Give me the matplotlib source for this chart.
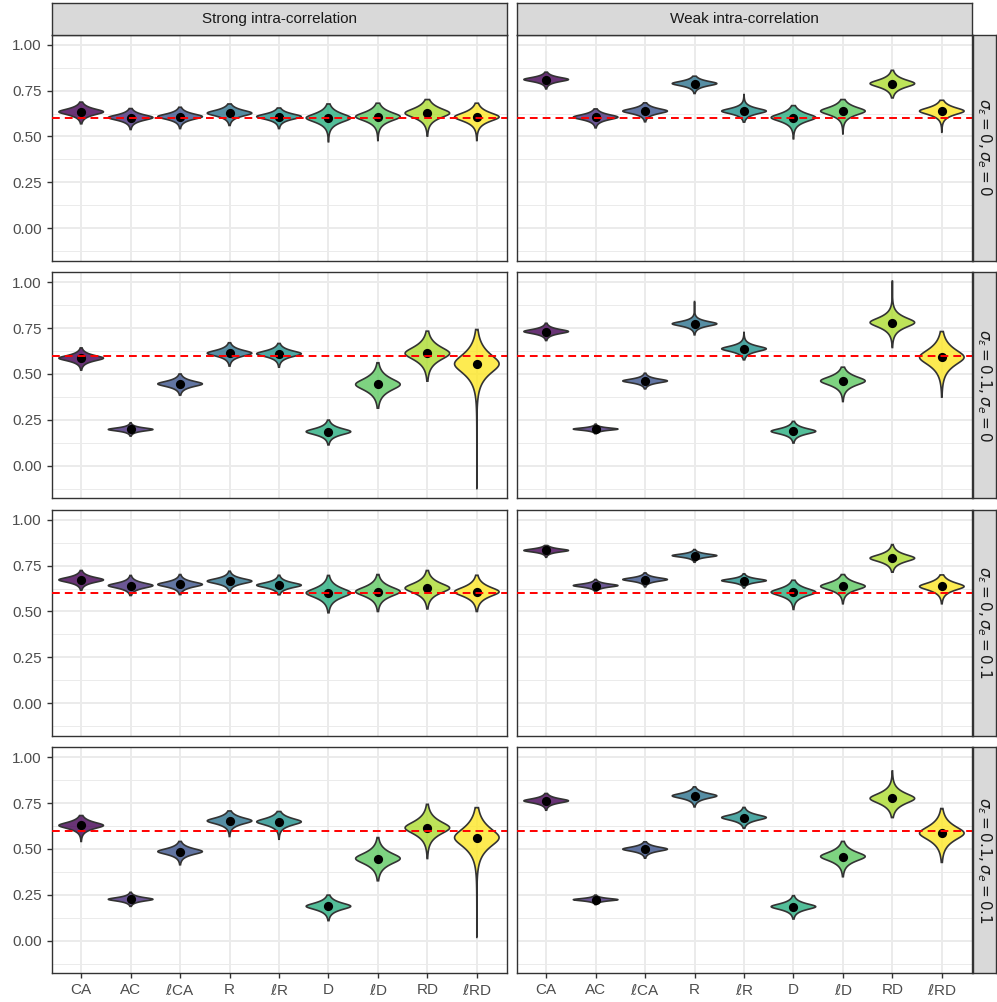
import numpy as np
import matplotlib
matplotlib.use("Agg")
import matplotlib.pyplot as plt

plt.rcParams['font.family'] = ['Liberation Sans', 'DejaVu Sans']
plt.rcParams['mathtext.fontset'] = 'dejavusans'

methods = ["CA", "AC", r"$\ell$CA", "R", r"$\ell$R", "D", r"$\ell$D", "RD", r"$\ell$RD"]
columns = ["Strong intra-correlation", "Weak intra-correlation"]
rows = [r"$\sigma_\varepsilon = 0, \sigma_e = 0$",
        r"$\sigma_\varepsilon = 0.1, \sigma_e = 0$",
        r"$\sigma_\varepsilon = 0, \sigma_e = 0.1$",
        r"$\sigma_\varepsilon = 0.1, \sigma_e = 0.1$"]
true_value = 0.6

# panels in order: row1 strong, row1 weak, row2 strong, row2 weak, ...
# mean estimate (black dot)
means = [
    [0.634, 0.603, 0.608, 0.627, 0.608, 0.601, 0.608, 0.627, 0.606],
    [0.810, 0.605, 0.638, 0.788, 0.638, 0.603, 0.638, 0.788, 0.638],
    [0.586, 0.198, 0.446, 0.613, 0.610, 0.186, 0.443, 0.612, 0.555],
    [0.731, 0.200, 0.462, 0.773, 0.637, 0.188, 0.462, 0.780, 0.591],
    [0.672, 0.641, 0.647, 0.665, 0.643, 0.601, 0.608, 0.627, 0.607],
    [0.832, 0.641, 0.674, 0.804, 0.668, 0.605, 0.637, 0.790, 0.636],
    [0.628, 0.226, 0.486, 0.653, 0.648, 0.188, 0.448, 0.615, 0.562],
    [0.762, 0.224, 0.499, 0.789, 0.671, 0.186, 0.459, 0.775, 0.586],
]
# smallest estimate
lows = [
    [0.569, 0.538, 0.543, 0.560, 0.543, 0.471, 0.478, 0.502, 0.478],
    [0.759, 0.547, 0.580, 0.734, 0.578, 0.487, 0.514, 0.710, 0.523],
    [0.521, 0.162, 0.385, 0.543, 0.537, 0.114, 0.314, 0.461, -0.124],
    [0.682, 0.175, 0.419, 0.713, 0.577, 0.124, 0.350, 0.644, 0.374],
    [0.616, 0.587, 0.592, 0.610, 0.591, 0.493, 0.500, 0.514, 0.500],
    [0.795, 0.611, 0.634, 0.768, 0.628, 0.511, 0.542, 0.714, 0.542],
    [0.541, 0.188, 0.414, 0.568, 0.553, 0.110, 0.327, 0.448, 0.019],
    [0.711, 0.197, 0.450, 0.729, 0.613, 0.119, 0.349, 0.671, 0.427],
]
# largest estimate
highs = [
    [0.687, 0.652, 0.659, 0.677, 0.655, 0.677, 0.681, 0.701, 0.681],
    [0.850, 0.650, 0.683, 0.828, 0.728, 0.668, 0.701, 0.860, 0.697],
    [0.642, 0.234, 0.500, 0.670, 0.666, 0.249, 0.561, 0.733, 0.742],
    [0.776, 0.227, 0.504, 0.894, 0.726, 0.242, 0.537, 1.006, 0.731],
    [0.723, 0.696, 0.701, 0.719, 0.697, 0.696, 0.701, 0.723, 0.697],
    [0.859, 0.674, 0.710, 0.837, 0.705, 0.670, 0.701, 0.864, 0.699],
    [0.682, 0.264, 0.541, 0.707, 0.704, 0.249, 0.562, 0.743, 0.725],
    [0.802, 0.249, 0.539, 0.838, 0.726, 0.246, 0.541, 0.925, 0.720],
]
# spread of the body of each violin
spreads = [
    [0.015, 0.014, 0.014, 0.015, 0.014, 0.022, 0.022, 0.024, 0.022],
    [0.011, 0.013, 0.013, 0.012, 0.014, 0.020, 0.020, 0.019, 0.018],
    [0.014, 0.008, 0.014, 0.015, 0.015, 0.016, 0.030, 0.033, 0.050],
    [0.011, 0.006, 0.010, 0.012, 0.014, 0.014, 0.022, 0.025, 0.040],
    [0.013, 0.013, 0.013, 0.013, 0.013, 0.024, 0.024, 0.025, 0.024],
    [0.008, 0.008, 0.009, 0.008, 0.009, 0.019, 0.019, 0.018, 0.019],
    [0.016, 0.009, 0.015, 0.016, 0.017, 0.017, 0.028, 0.032, 0.048],
    [0.011, 0.006, 0.011, 0.013, 0.014, 0.015, 0.023, 0.026, 0.035],
]

colors = plt.cm.viridis(np.linspace(0, 1, len(methods)))
W, H = 997, 1002


def draw_violin(ax, x, m, lo, hi, b, color):
    ys = np.linspace(lo, hi, 300)
    d = ys - m
    c = 0.9 * b
    w = np.exp(-(np.sqrt(d ** 2 + c ** 2) - c) / b)
    w = 0.45 * w / w.max()
    px = np.concatenate([x - w, (x + w)[::-1]])
    py = np.concatenate([ys, ys[::-1]])
    fc = (color[0], color[1], color[2], 0.8)
    ax.fill(px, py, facecolor=fc, edgecolor='#333333', linewidth=1.2, zorder=2)


fig = plt.figure(figsize=(W / 100, H / 100), dpi=100)

lefts = [51.5, 516.5]
pw, ph = 455, 226
for r in range(4):
    top = 34.5 + 237.5 * r
    for c in range(2):
        k = r * 2 + c
        ax = fig.add_axes([lefts[c] / W, 1 - (top + ph) / H, pw / W, ph / H])
        xs = np.arange(1, len(methods) + 1)
        for i in range(len(methods)):
            draw_violin(ax, xs[i], means[k][i], lows[k][i], highs[k][i],
                        spreads[k][i], colors[i])
        ax.scatter(xs, means[k], s=44, color='black', zorder=3, linewidths=0)
        ax.axhline(true_value, color='red', lw=1.4, ls=(0, (4, 2.6)), zorder=4)

        ax.set_xlim(0.4, len(methods) + 0.6)
        ax.set_ylim(-0.175, 1.055)
        ax.set_xticks(xs)
        ax.set_yticks([0, 0.25, 0.5, 0.75, 1.0])
        ax.set_yticks([-0.125, 0.125, 0.375, 0.625, 0.875], minor=True)
        ax.grid(which='major', color='#EBEBEB', lw=1.4, zorder=0)
        ax.grid(which='minor', axis='y', color='#EBEBEB', lw=0.7, zorder=0)
        ax.set_axisbelow(True)
        for s in ax.spines.values():
            s.set_color('#333333')
            s.set_linewidth(1.0)
        ax.tick_params(which='major', color='#333333', labelcolor='#4D4D4D',
                       length=3.5, width=1.0, labelsize=11)
        ax.tick_params(which='minor', length=0)
        if c == 0:
            ax.set_yticklabels(["0.00", "0.25", "0.50", "0.75", "1.00"])
        else:
            ax.tick_params(axis='y', which='both', left=False, labelleft=False)
        if r == 3:
            ax.set_xticklabels(methods)
        else:
            ax.tick_params(axis='x', bottom=False, labelbottom=False)

        if r == 0:
            sax = fig.add_axes([lefts[c] / W, 1 - 34.5 / H, pw / W, 31.5 / H])
            sax.set_facecolor('#D9D9D9')
            sax.set_xticks([])
            sax.set_yticks([])
            for s in sax.spines.values():
                s.set_color('#333333')
                s.set_linewidth(1.0)
            sax.text(0.5, 0.5, columns[c], ha='center', va='center',
                     fontsize=11, color='#1A1A1A', transform=sax.transAxes)
        if c == 1:
            rax = fig.add_axes([972.5 / W, 1 - (top + ph) / H, 23.5 / W, ph / H])
            rax.set_facecolor('#D9D9D9')
            rax.set_xticks([])
            rax.set_yticks([])
            for s in rax.spines.values():
                s.set_color('#333333')
                s.set_linewidth(1.0)
            rax.text(0.5, 0.5, rows[r], ha='center', va='center', rotation=-90,
                     fontsize=11, color='#1A1A1A', transform=rax.transAxes)

fig.savefig("out.png", dpi=100)
